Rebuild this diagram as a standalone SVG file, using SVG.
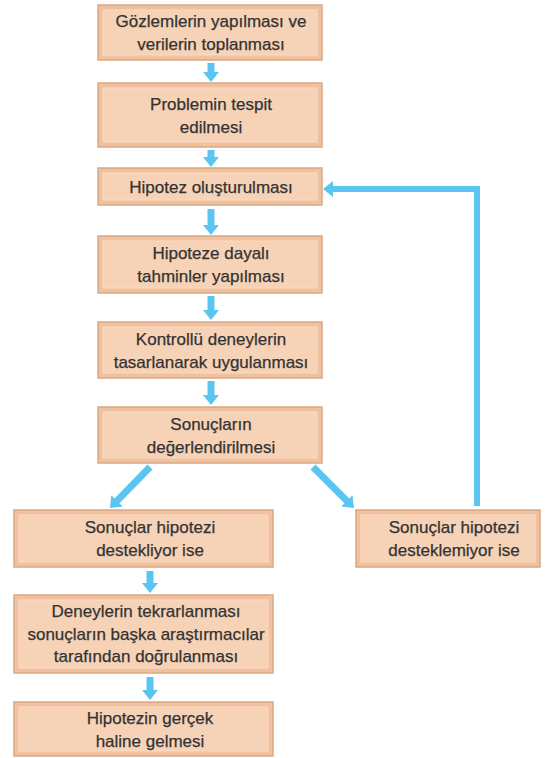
<svg xmlns="http://www.w3.org/2000/svg" width="553" height="758" viewBox="0 0 553 758">
<defs>
<style>
.box{fill:#f0c19e;stroke:#d9a883;stroke-width:1.5}
.inner{fill:#f6d2b6;stroke:#f9dcc6;stroke-width:1}
.t{font-family:"Liberation Sans",Arial,sans-serif;font-size:17px;fill:#333333;stroke:#333333;stroke-width:0.25;text-anchor:middle}
.c{fill:none;stroke:#5bc5f2;stroke-width:7}
.loop{fill:none;stroke:#5bc5f2;stroke-width:6}
</style>
<marker id="ah" markerUnits="userSpaceOnUse" markerWidth="12" markerHeight="18" refX="1" refY="8" orient="auto" viewBox="0 0 12 16" overflow="visible">
<path d="M0,0 L10,8 L0,16 Z" fill="#5bc5f2"/>
</marker>
</defs>
<rect width="553" height="758" fill="#ffffff"/>
<g id="connectors">
<line class="c" x1="211" y1="63" x2="211" y2="73" marker-end="url(#ah)"/>
<line class="c" x1="211" y1="150" x2="211" y2="158" marker-end="url(#ah)"/>
<line class="c" x1="211" y1="209" x2="211" y2="226" marker-end="url(#ah)"/>
<line class="c" x1="211" y1="296" x2="211" y2="311" marker-end="url(#ah)"/>
<line class="c" x1="211" y1="381" x2="211" y2="396" marker-end="url(#ah)"/>
<line class="c" x1="150" y1="467" x2="116.3" y2="501.6" marker-end="url(#ah)"/>
<line class="c" x1="313" y1="467" x2="347.6" y2="501.6" marker-end="url(#ah)"/>
<line class="c" x1="150" y1="571" x2="150" y2="584" marker-end="url(#ah)"/>
<line class="c" x1="150" y1="677" x2="150" y2="691" marker-end="url(#ah)"/>
<path class="loop" d="M477,506 L477,189 L332,189" marker-end="url(#ah)"/>
</g>
<g id="n1">
<rect class="box" x="98" y="5" width="224" height="55"/>
<rect class="inner" x="103" y="10" width="214" height="45"/>
<text class="t" x="211" y="27">Gözlemlerin yapılması ve</text>
<text class="t" x="211" y="50">verilerin toplanması</text>
</g>
<g id="n2">
<rect class="box" x="98" y="83" width="224" height="64"/>
<rect class="inner" x="103" y="88" width="214" height="54"/>
<text class="t" x="211" y="110">Problemin tespit</text>
<text class="t" x="211" y="133">edilmesi</text>
</g>
<g id="n3">
<rect class="box" x="98" y="168" width="224" height="37"/>
<rect class="inner" x="103" y="173" width="214" height="27"/>
<text class="t" x="211" y="193">Hipotez oluşturulması</text>
</g>
<g id="n4">
<rect class="box" x="98" y="236" width="224" height="57"/>
<rect class="inner" x="103" y="241" width="214" height="47"/>
<text class="t" x="211" y="259">Hipoteze dayalı</text>
<text class="t" x="211" y="282">tahminler yapılması</text>
</g>
<g id="n5">
<rect class="box" x="98" y="322" width="224" height="56"/>
<rect class="inner" x="103" y="327" width="214" height="46"/>
<text class="t" x="211" y="345">Kontrollü deneylerin</text>
<text class="t" x="211" y="368">tasarlanarak uygulanması</text>
</g>
<g id="n6">
<rect class="box" x="98" y="407" width="224" height="56"/>
<rect class="inner" x="103" y="412" width="214" height="46"/>
<text class="t" x="211" y="430">Sonuçların</text>
<text class="t" x="211" y="453">değerlendirilmesi</text>
</g>
<g id="n7">
<rect class="box" x="14" y="510" width="259" height="57"/>
<rect class="inner" x="19" y="515" width="249" height="47"/>
<text class="t" x="150" y="533">Sonuçlar hipotezi</text>
<text class="t" x="150" y="556">destekliyor ise</text>
</g>
<g id="n8">
<rect class="box" x="356" y="510" width="184" height="57"/>
<rect class="inner" x="361" y="515" width="174" height="47"/>
<text class="t" x="454" y="533">Sonuçlar hipotezi</text>
<text class="t" x="454" y="556">desteklemiyor ise</text>
</g>
<g id="n9">
<rect class="box" x="14" y="595" width="259" height="78"/>
<rect class="inner" x="19" y="600" width="249" height="68"/>
<text class="t" x="146" y="617">Deneylerin tekrarlanması</text>
<text class="t" x="146" y="640">sonuçların başka araştırmacılar</text>
<text class="t" x="146" y="662">tarafından doğrulanması</text>
</g>
<g id="n10">
<rect class="box" x="14" y="702" width="259" height="54"/>
<rect class="inner" x="19" y="707" width="249" height="44"/>
<text class="t" x="150" y="724">Hipotezin gerçek</text>
<text class="t" x="150" y="747">haline gelmesi</text>
</g>
</svg>
